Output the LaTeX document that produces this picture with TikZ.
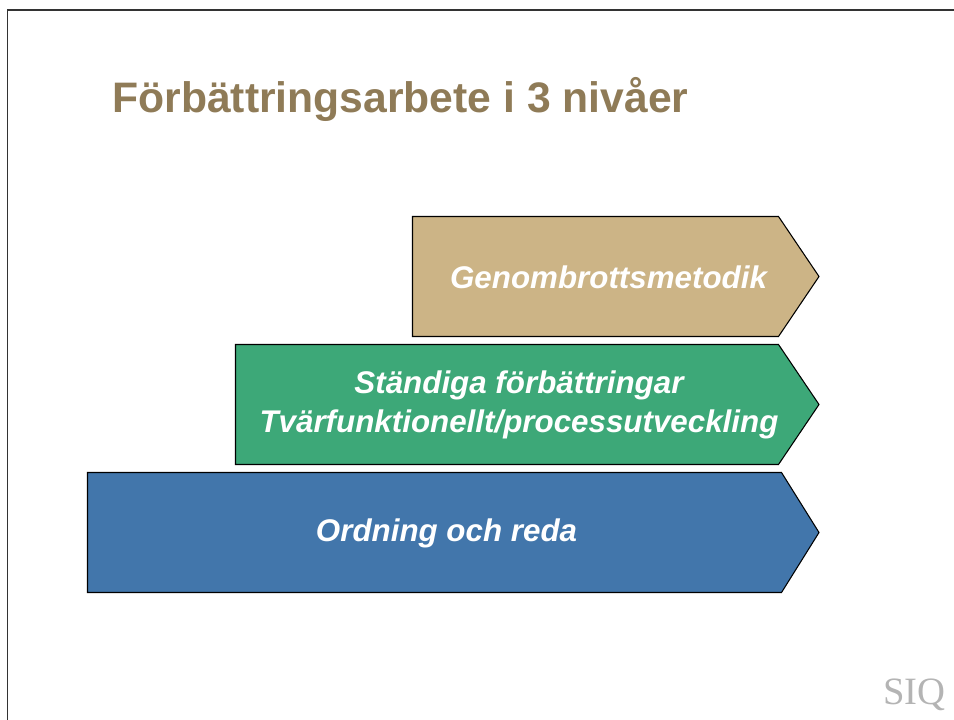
\documentclass[tikz,border=0pt]{standalone}
\usepackage{fontspec}
\setmainfont{Liberation Sans}
\newfontfamily\logofont{Liberation Serif}
\definecolor{titlec}{HTML}{8F7B57}
\definecolor{tanc}{HTML}{CCB486}
\definecolor{greenc}{HTML}{3DA878}
\definecolor{bluec}{HTML}{4276AB}
\definecolor{logoc}{HTML}{B4B4B4}
\tikzset{
  level/.style={draw=black,line width=0.8pt,line join=miter},
  leveltext/.style={text=white,font=\fontsize{23.5}{29}\selectfont\bfseries\itshape,align=center,inner sep=0pt},
  frameline/.style={draw=black!80,line width=1.1pt}
}
\begin{document}
\begin{tikzpicture}[x=0.75pt,y=-0.75pt]
\useasboundingbox (0,0) rectangle (954,720);
\fill[white] (0,0) rectangle (954,720);
\draw[frameline] (954,10) -- (7.5,10) -- (7.5,720);
\node[anchor=west,inner sep=0pt,text=titlec,font=\fontsize{32}{38}\selectfont\bfseries] (title) at (112,99) {Förbättringsarbete i 3 nivåer};
\draw[level,fill=tanc] (412.5,216.5) -- (778.5,216.5) -- (819,276.5) -- (778.5,336.5) -- (412.5,336.5) -- cycle;
\draw[level,fill=greenc] (235.5,344.5) -- (778.5,344.5) -- (819,404.5) -- (778.5,464.5) -- (235.5,464.5) -- cycle;
\draw[level,fill=bluec] (87.5,472.5) -- (781.5,472.5) -- (819,532.5) -- (781.5,592.5) -- (87.5,592.5) -- cycle;
\node[leveltext] (top) at (608.5,277) {Genombrottsmetodik};
\node[leveltext] (mid) at (519,405) {Ständiga förbättringar\\Tvärfunktionellt/processutveckling};
\node[leveltext] (low) at (446.5,533) {Ordning och reda};
\node[inner sep=0pt,text=logoc,font=\logofont\fontsize{29}{32}\selectfont] (logo) at (914.5,695) {SIQ};
\end{tikzpicture}
\end{document}
